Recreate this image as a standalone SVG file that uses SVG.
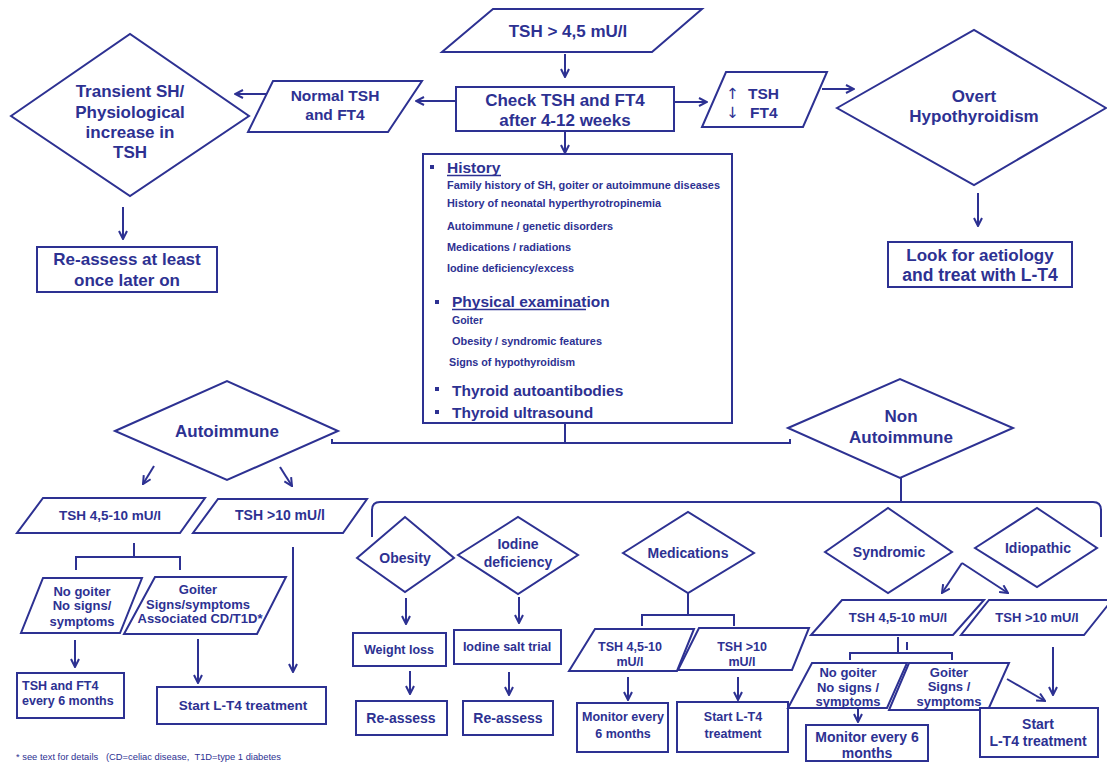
<svg xmlns="http://www.w3.org/2000/svg" width="1107" height="763" viewBox="0 0 1107 763">
<defs>
<style>
.s{fill:#fff;stroke:#2d3192;stroke-width:2;stroke-linejoin:miter}
.c{fill:none;stroke:#2d3192;stroke-width:2}
text{font-family:"Liberation Sans",Arial,sans-serif;font-weight:bold;fill:#2d3192}
.m{text-anchor:middle}
.f17{font-size:17px}.f15{font-size:15.5px}.f14{font-size:14px}.f13{font-size:13px}.f135{font-size:13.5px}.f125{font-size:12.5px}.f11{font-size:11px}
</style>
<marker id="ah" viewBox="0 0 10 10" refX="9" refY="5" markerWidth="10" markerHeight="10" orient="auto" markerUnits="userSpaceOnUse">
<path d="M1,1 L9,5 L1,9" fill="none" stroke="#2d3192" stroke-width="2"/>
</marker>
</defs>
<rect width="1107" height="763" fill="#fff"/>

<g id="connectors">
<path class="c" d="M565,54 V77" marker-end="url(#ah)"/>
<path class="c" d="M456,101 H416" marker-end="url(#ah)"/>
<path class="c" d="M266,94 H235" marker-end="url(#ah)"/>
<path class="c" d="M123,207 V239" marker-end="url(#ah)"/>
<path class="c" d="M674,102 H707" marker-end="url(#ah)"/>
<path class="c" d="M822,89 H854" marker-end="url(#ah)"/>
<path class="c" d="M978,193 V226" marker-end="url(#ah)"/>
<path class="c" d="M565,131 V153" marker-end="url(#ah)"/>
<path class="c" d="M565,423 V443 M332,439 V443 H790 V439"/>
<path class="c" d="M154,466 L143,484" marker-end="url(#ah)"/>
<path class="c" d="M280,467 L292,486" marker-end="url(#ah)"/>
<path class="c" d="M134,543 V557 M76,570 V557 H180 V570"/>
<path class="c" d="M293,547 V672" marker-end="url(#ah)"/>
<path class="c" d="M75,640 V667" marker-end="url(#ah)"/>
<path class="c" d="M198,639 V683" marker-end="url(#ah)"/>
<path class="c" d="M901,478 V502 M372,537 V510 Q372,502 380,502 H1093 Q1101,502 1101,510 V537"/>
<path class="c" d="M406,598 V624" marker-end="url(#ah)"/>
<path class="c" d="M519,597 V623" marker-end="url(#ah)"/>
<path class="c" d="M410,671 V694" marker-end="url(#ah)"/>
<path class="c" d="M509,672 V695" marker-end="url(#ah)"/>
<path class="c" d="M688,593 V615 M642,626 V615 H734 V626"/>
<path class="c" d="M628,677 V700" marker-end="url(#ah)"/>
<path class="c" d="M738,677 V700" marker-end="url(#ah)"/>
<path class="c" d="M962,563 L942,593" marker-end="url(#ah)"/>
<path class="c" d="M962,563 L1008,593" marker-end="url(#ah)"/>
<path class="c" d="M898,637 V653 M850,660 V653 H952 V660 M907,642 V650"/>
<path class="c" d="M858,709 V722" marker-end="url(#ah)"/>
<path class="c" d="M1007,679 L1045,701" marker-end="url(#ah)"/>
<path class="c" d="M1053,647 V695" marker-end="url(#ah)"/>
</g>

<g id="tsh-start">
<polygon class="s" points="493,9 702,9 652,52 442,52"/>
<text class="m f17" x="568" y="37">TSH &gt; 4,5 mU/l</text>
</g>
<g id="check">
<rect class="s" x="456" y="87" width="218" height="44"/>
<text class="m f17" x="565" y="106">Check TSH and FT4</text>
<text class="m f17" x="565" y="126">after 4-12 weeks</text>
</g>
<g id="normal">
<polygon class="s" points="273,81 422,81 388,132 248,132"/>
<text class="m f15" x="335" y="101">Normal TSH</text>
<text class="m f15" x="335" y="120">and FT4</text>
</g>
<g id="transient">
<polygon class="s" points="11,116 130,34 249,116 130,196"/>
<text class="m f17" x="130" y="97">Transient SH/</text>
<text class="m f17" x="130" y="118">Physiological</text>
<text class="m f17" x="130" y="138">increase in</text>
<text class="m f17" x="130" y="158">TSH</text>
</g>
<g id="reassess-top">
<rect class="s" x="37" y="247" width="180" height="45"/>
<text class="m f17" x="127" y="265">Re-assess at least</text>
<text class="m f17" x="127" y="286">once later on</text>
</g>
<g id="tsh-ft4">
<polygon class="s" points="726,72 827,72 803,127 702,127"/>
<text class="f15" x="726" y="99" style="font-family:'DejaVu Sans',sans-serif;font-weight:normal">↑</text>
<text class="f15" x="748" y="99">TSH</text>
<text class="f15" x="726" y="118" style="font-family:'DejaVu Sans',sans-serif;font-weight:normal">↓</text>
<text class="f15" x="750" y="118">FT4</text>
</g>
<g id="overt">
<polygon class="s" points="837,108 974,30 1106,108 974,185"/>
<text class="m f17" x="974" y="102">Overt</text>
<text class="m f17" x="974" y="122">Hypothyroidism</text>
</g>
<g id="look-for">
<rect class="s" x="888" y="242" width="184" height="45"/>
<text class="m f17" x="980" y="261">Look for aetiology</text>
<text class="m f17" x="980" y="281" style="font-size:17.5px">and treat with L-T4</text>
</g>
<g id="workup">
<rect class="s" x="423" y="154" width="309" height="269"/>
<rect x="430" y="165" width="4" height="4" fill="#2d3192"/>
<text class="f15" x="447" y="173">History</text>
<line class="c" x1="447" y1="175.5" x2="501" y2="175.5" style="stroke-width:1.5"/>
<text class="f11" x="447" y="189" textLength="273" lengthAdjust="spacingAndGlyphs">Family history of SH, goiter or autoimmune diseases</text>
<text class="f11" x="447" y="207" textLength="214" lengthAdjust="spacingAndGlyphs">History of neonatal hyperthyrotropinemia</text>
<text class="f11" x="447" y="230" textLength="166" lengthAdjust="spacingAndGlyphs">Autoimmune  / genetic disorders</text>
<text class="f11" x="447" y="251" textLength="124" lengthAdjust="spacingAndGlyphs">Medications / radiations</text>
<text class="f11" x="447" y="272" textLength="127" lengthAdjust="spacingAndGlyphs">Iodine deficiency/excess</text>
<rect x="435" y="300" width="4" height="4" fill="#2d3192"/>
<text class="f15" x="452" y="307">Physical examination</text>
<line class="c" x1="452" y1="309.5" x2="586" y2="309.5" style="stroke-width:1.5"/>
<text class="f11" x="452" y="324" textLength="31" lengthAdjust="spacingAndGlyphs">Goiter</text>
<text class="f11" x="452" y="345" textLength="150" lengthAdjust="spacingAndGlyphs">Obesity / syndromic features</text>
<text class="f11" x="449" y="366" textLength="126" lengthAdjust="spacingAndGlyphs">Signs of hypothyroidism</text>
<rect x="435" y="387" width="4" height="4" fill="#2d3192"/>
<text class="f15" x="452" y="396">Thyroid autoantibodies</text>
<rect x="435" y="410" width="4" height="4" fill="#2d3192"/>
<text class="f15" x="452" y="418">Thyroid ultrasound</text>
</g>
<g id="autoimmune">
<polygon class="s" points="115,431 227,381 338,431 227,480"/>
<text class="m f17" x="227" y="437">Autoimmune</text>
</g>
<g id="non-autoimmune">
<polygon class="s" points="788,428 900,379 1013,428 900,478"/>
<text class="m f17" x="901" y="422">Non</text>
<text class="m f17" x="901" y="443">Autoimmune</text>
</g>
<g id="a-tsh-low">
<polygon class="s" points="43,498 205,498 180,533 17,533"/>
<text class="m f135" x="110" y="520">TSH 4,5-10 mU/l</text>
</g>
<g id="a-tsh-high">
<polygon class="s" points="218,499 367,499 343,533 193,533"/>
<text class="m f14" x="280" y="520">TSH &gt;10 mU/l</text>
</g>
<g id="a-no-goiter">
<polygon class="s" points="43,578 142,578 120,633 21,633"/>
<text class="m f13" x="82" y="596">No goiter</text>
<text class="m f13" x="82" y="610">No signs/</text>
<text class="m f13" x="82" y="626">symptoms</text>
</g>
<g id="a-goiter">
<polygon class="s" points="155,577 286,577 257,634 124,634"/>
<text class="m f13" x="198" y="594">Goiter</text>
<text class="m f13" x="198" y="609">Signs/symptoms</text>
<text class="m f13" x="200" y="623">Associated CD/T1D*</text>
</g>
<g id="a-monitor">
<rect class="s" x="17" y="673" width="107" height="45"/>
<text class="f125" x="22" y="690">TSH and FT4</text>
<text class="f125" x="22" y="705">every 6 months</text>
</g>
<g id="a-start">
<rect class="s" x="157" y="687" width="169" height="37"/>
<text class="m f135" x="243" y="710">Start L-T4 treatment</text>
</g>
<g id="obesity">
<polygon class="s" points="357,558 405,517 454,558 405,592"/>
<text class="m f14" x="405" y="563">Obesity</text>
</g>
<g id="iodine">
<polygon class="s" points="458,555 518,517 578,555 518,594"/>
<text class="m f14" x="518" y="549">Iodine</text>
<text class="m f14" x="518" y="567">deficiency</text>
</g>
<g id="weight-loss">
<rect class="s" x="353" y="633" width="93" height="33"/>
<text class="m f125" x="399" y="654">Weight loss</text>
</g>
<g id="iodine-salt">
<rect class="s" x="454" y="630" width="107" height="34"/>
<text class="m f125" x="507" y="651">Iodine salt trial</text>
</g>
<g id="reassess-obesity">
<rect class="s" x="356" y="701" width="91" height="34"/>
<text class="m f14" x="401" y="723">Re-assess</text>
</g>
<g id="reassess-iodine">
<rect class="s" x="463" y="701" width="90" height="34"/>
<text class="m f14" x="508" y="723">Re-assess</text>
</g>
<g id="medications">
<polygon class="s" points="623,553 688,512 754,553 688,593"/>
<text class="m f14" x="688" y="558">Medications</text>
</g>
<g id="m-tsh-low">
<polygon class="s" points="595,629 694,629 677,671 569,671"/>
<text class="m f125" x="630" y="651">TSH 4,5-10</text>
<text class="m f125" x="630" y="666">mU/l</text>
</g>
<g id="m-tsh-high">
<polygon class="s" points="699,628 809,628 792,670 678,670"/>
<text class="m f125" x="742" y="651">TSH &gt;10</text>
<text class="m f125" x="742" y="666">mU/l</text>
</g>
<g id="m-monitor">
<rect class="s" x="577" y="703" width="91" height="49"/>
<text class="m f125" x="623" y="721">Monitor every</text>
<text class="m f125" x="623" y="738">6 months</text>
</g>
<g id="m-start">
<rect class="s" x="677" y="702" width="111" height="50"/>
<text class="m f125" x="733" y="721">Start L-T4</text>
<text class="m f125" x="733" y="738">treatment</text>
</g>
<g id="syndromic">
<polygon class="s" points="825,552 888,508 952,552 888,593"/>
<text class="m f14" x="889" y="557">Syndromic</text>
</g>
<g id="idiopathic">
<polygon class="s" points="975,548 1037,508 1097,548 1037,587"/>
<text class="m f14" x="1038" y="553">Idiopathic</text>
</g>
<g id="n-tsh-low">
<polygon class="s" points="842,600 984,600 953,635 811,635"/>
<text class="m f13" x="898" y="622">TSH 4,5-10 mU/l</text>
</g>
<g id="n-tsh-high">
<polygon class="s" points="989,600 1112,600 1084,635 961,635"/>
<text class="m f13" x="1037" y="622">TSH &gt;10 mU/l</text>
</g>
<g id="n-no-goiter">
<polygon class="s" points="812,663 907,663 887,708 788,708"/>
<text class="m f13" x="848" y="677">No goiter</text>
<text class="m f13" x="848" y="692">No signs /</text>
<text class="m f13" x="848" y="706">symptoms</text>
</g>
<g id="n-goiter">
<polygon class="s" points="909,663 1009,663 988,710 889,710"/>
<text class="m f13" x="949" y="677">Goiter</text>
<text class="m f13" x="949" y="691">Signs /</text>
<text class="m f13" x="949" y="706">symptoms</text>
</g>
<g id="n-monitor">
<rect class="s" x="806" y="725" width="122" height="36"/>
<text class="m f14" x="867" y="742">Monitor every 6</text>
<text class="m f14" x="867" y="758">months</text>
</g>
<g id="n-start">
<rect class="s" x="980" y="708" width="118" height="49"/>
<text class="m f14" x="1038" y="729">Start</text>
<text class="m f14" x="1038" y="746">L-T4 treatment</text>
</g>
<text x="16" y="760" xml:space="preserve" style="font-weight:normal;font-size:9px" textLength="265" lengthAdjust="spacingAndGlyphs">* see text for details   (CD=celiac disease,  T1D=type 1 diabetes</text>
</svg>
